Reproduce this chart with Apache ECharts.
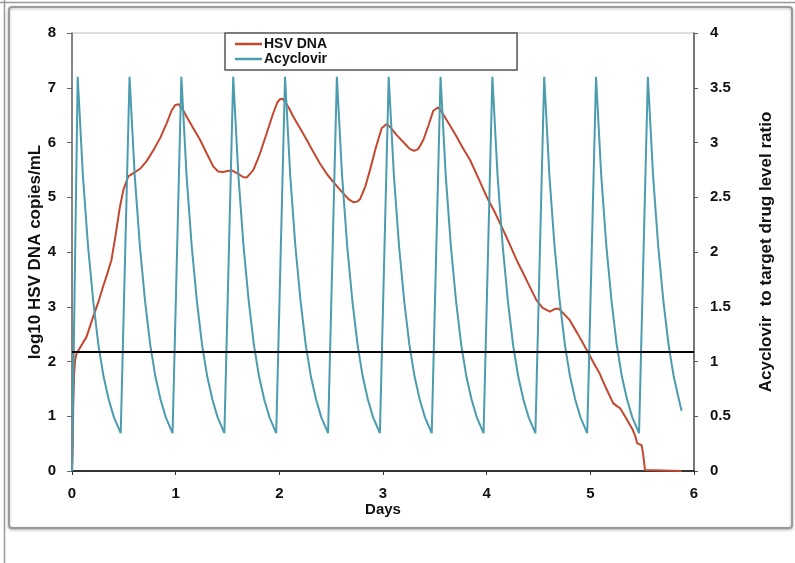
<!DOCTYPE html>
<html>
<head>
<meta charset="utf-8">
<script src="https://cdn.jsdelivr.net/npm/echarts@6/dist/echarts.min.js"></script>
<style>
  html, body { margin: 0; padding: 0; background: #fff; }
  #chart { width: 795px; height: 563px; }
</style>
</head>
<body>
<div id="chart"></div>
<script>
// [days, log10 HSV DNA copies/mL]
var hsvDna = [
  [0, 0], [0.006, 0.3], [0.012, 1.2], [0.02, 1.75], [0.03, 2.03], [0.045, 2.15], [0.07, 2.23],
  [0.14, 2.45], [0.205, 2.82], [0.26, 3.12], [0.3, 3.37], [0.34, 3.6], [0.38, 3.85], [0.42, 4.3],
  [0.46, 4.8], [0.495, 5.13], [0.543, 5.38], [0.6, 5.45], [0.656, 5.52], [0.72, 5.66], [0.785, 5.86],
  [0.85, 6.08], [0.913, 6.35], [0.96, 6.58], [0.994, 6.68], [1.025, 6.7], [1.06, 6.63], [1.106, 6.47],
  [1.17, 6.26], [1.235, 6.05], [1.3, 5.8], [1.363, 5.56], [1.41, 5.47], [1.46, 5.46], [1.5, 5.48],
  [1.54, 5.49], [1.6, 5.43], [1.65, 5.37], [1.685, 5.36], [1.75, 5.5], [1.81, 5.78], [1.875, 6.15],
  [1.94, 6.53], [1.98, 6.73], [2.006, 6.79], [2.03, 6.8], [2.055, 6.75], [2.095, 6.62], [2.135, 6.47],
  [2.2, 6.26], [2.264, 6.05], [2.33, 5.82], [2.39, 5.62], [2.46, 5.42], [2.52, 5.28], [2.57, 5.17],
  [2.617, 5.07], [2.67, 4.96], [2.713, 4.91], [2.75, 4.92], [2.78, 4.97], [2.83, 5.2], [2.875, 5.5],
  [2.93, 5.9], [2.987, 6.26], [3.035, 6.34], [3.08, 6.26], [3.13, 6.14], [3.2, 6.0], [3.26, 5.88],
  [3.3, 5.85], [3.34, 5.88], [3.39, 6.05], [3.44, 6.32], [3.485, 6.58], [3.53, 6.64], [3.56, 6.58],
  [3.614, 6.41], [3.7, 6.14], [3.77, 5.9], [3.84, 5.68], [3.92, 5.35], [4.0, 5.01], [4.08, 4.72],
  [4.16, 4.4], [4.22, 4.15], [4.29, 3.85], [4.35, 3.62], [4.42, 3.35], [4.48, 3.12], [4.54, 2.98],
  [4.61, 2.91], [4.66, 2.96], [4.69, 2.97], [4.74, 2.88], [4.8, 2.76], [4.88, 2.5], [4.965, 2.21],
  [5.03, 1.98], [5.09, 1.78], [5.15, 1.52], [5.22, 1.24], [5.26, 1.18], [5.286, 1.15], [5.35, 0.95],
  [5.41, 0.75], [5.44, 0.6], [5.45, 0.51], [5.495, 0.47], [5.51, 0.3], [5.527, 0.02], [5.53, 0],
  [5.88, 0]
];

// [days, acyclovir / target drug level ratio]
var acyclovir = [
  [0, 0], [0.055, 3.6], [0.105, 2.7], [0.155, 2.05], [0.205, 1.55], [0.255, 1.15], [0.305, 0.86], [0.355, 0.65], [0.405, 0.49], [0.47, 0.345],
  [0.555, 3.6], [0.605, 2.7], [0.655, 2.05], [0.705, 1.55], [0.755, 1.15], [0.805, 0.86], [0.855, 0.65], [0.905, 0.49], [0.97, 0.345],
  [1.055, 3.6], [1.105, 2.7], [1.155, 2.05], [1.205, 1.55], [1.255, 1.15], [1.305, 0.86], [1.355, 0.65], [1.405, 0.49], [1.47, 0.345],
  [1.555, 3.6], [1.605, 2.7], [1.655, 2.05], [1.705, 1.55], [1.755, 1.15], [1.805, 0.86], [1.855, 0.65], [1.905, 0.49], [1.97, 0.345],
  [2.055, 3.6], [2.105, 2.7], [2.155, 2.05], [2.205, 1.55], [2.255, 1.15], [2.305, 0.86], [2.355, 0.65], [2.405, 0.49], [2.47, 0.345],
  [2.555, 3.6], [2.605, 2.7], [2.655, 2.05], [2.705, 1.55], [2.755, 1.15], [2.805, 0.86], [2.855, 0.65], [2.905, 0.49], [2.97, 0.345],
  [3.055, 3.6], [3.105, 2.7], [3.155, 2.05], [3.205, 1.55], [3.255, 1.15], [3.305, 0.86], [3.355, 0.65], [3.405, 0.49], [3.47, 0.345],
  [3.555, 3.6], [3.605, 2.7], [3.655, 2.05], [3.705, 1.55], [3.755, 1.15], [3.805, 0.86], [3.855, 0.65], [3.905, 0.49], [3.97, 0.345],
  [4.055, 3.6], [4.105, 2.7], [4.155, 2.05], [4.205, 1.55], [4.255, 1.15], [4.305, 0.86], [4.355, 0.65], [4.405, 0.49], [4.47, 0.345],
  [4.555, 3.6], [4.605, 2.7], [4.655, 2.05], [4.705, 1.55], [4.755, 1.15], [4.805, 0.86], [4.855, 0.65], [4.905, 0.49], [4.97, 0.345],
  [5.055, 3.6], [5.105, 2.7], [5.155, 2.05], [5.205, 1.55], [5.255, 1.15], [5.305, 0.86], [5.355, 0.65], [5.405, 0.49], [5.47, 0.345],
  [5.555, 3.6], [5.605, 2.7], [5.655, 2.05], [5.705, 1.55], [5.755, 1.15], [5.805, 0.86], [5.855, 0.65], [5.88, 0.55]
];

var targetRatio = 1.09;  // black horizontal line, right axis

var seriesNames = ['HSV DNA', 'Acyclovir'];
var colors = ['#c4482f', '#4a9cae'];

var font = 'Liberation Sans, Arial, sans-serif';
var bold = { fontFamily: font, fontWeight: 'bold', color: '#111' };

var chart = echarts.init(document.getElementById('chart'));
chart.setOption({
  animation: false,
  backgroundColor: '#fff',
  textStyle: { fontFamily: font },
  graphic: [
    // outer edge lines
    { type: 'line', shape: { x1: 0, y1: 2.5, x2: 795, y2: 2.5 }, style: { stroke: '#999', lineWidth: 1.5 }, z: -1 },
    { type: 'line', shape: { x1: 4.5, y1: 0, x2: 4.5, y2: 563 }, style: { stroke: '#999', lineWidth: 1.5 }, z: -1 },
    // chart frame
    {
      type: 'rect', shape: { x: 9, y: 7, width: 783, height: 521, r: 3 },
      style: { fill: '#fff', stroke: '#9a9a9a', lineWidth: 2, shadowBlur: 3, shadowColor: 'rgba(0,0,0,0.25)', shadowOffsetY: 1 },
      z: -1
    }
  ],
  legend: {
    data: seriesNames.map(function (n) { return { name: n, icon: 'rect' }; }),
    orient: 'vertical',
    left: 225,
    top: 33,
    itemWidth: 27,
    itemHeight: 2.5,
    itemGap: 1,
    padding: [4, 190, 4, 10],
    borderColor: '#555',
    borderWidth: 1.5,
    backgroundColor: '#fff',
    textStyle: { fontFamily: font, fontWeight: 'bold', fontSize: 14, color: '#111', padding: [0, 0, 0, -3] }
  },
  grid: {
    left: 72, right: 101, top: 33, bottom: 92,
    show: true, borderColor: '#c0c0c0', borderWidth: 1, backgroundColor: 'transparent'
  },
  xAxis: {
    type: 'value',
    min: 0, max: 6, interval: 1,
    name: 'Days',
    nameLocation: 'middle',
    nameGap: 31,
    nameMoveOverlap: false,
    nameTextStyle: Object.assign({ fontSize: 15 }, bold),
    axisLine: { lineStyle: { color: '#333', width: 2 } },
    axisTick: { length: 4, lineStyle: { color: '#333' } },
    axisLabel: Object.assign({ fontSize: 15, margin: 15 }, bold),
    splitLine: { show: false }
  },
  yAxis: [
    {
      type: 'value',
      min: 0, max: 8, interval: 1,
      name: 'log10 HSV DNA copies/mL',
      nameLocation: 'middle',
      nameGap: 28,
      nameMoveOverlap: false,
      nameRotate: 90,
      nameTextStyle: Object.assign({ fontSize: 17 }, bold),
      axisLine: { show: true, lineStyle: { color: '#666', width: 1.5 } },
      axisTick: { show: true, length: 5, lineStyle: { color: '#666' } },
      axisLabel: Object.assign({ fontSize: 15, margin: 16 }, bold),
      splitLine: { show: false }
    },
    {
      type: 'value',
      min: 0, max: 4, interval: 0.5,
      position: 'right',
      name: 'Acyclovir  to target drug level ratio',
      nameLocation: 'middle',
      nameGap: 64,
      nameMoveOverlap: false,
      nameRotate: 90,
      nameTextStyle: Object.assign({ fontSize: 17 }, bold),
      axisLine: { show: true, lineStyle: { color: '#555', width: 1.5 } },
      axisTick: { show: true, length: 4, lineStyle: { color: '#555' } },
      axisLabel: Object.assign({ fontSize: 15, margin: 16 }, bold),
      splitLine: { show: false }
    }
  ],
  series: [
    {
      name: seriesNames[0],
      type: 'line',
      yAxisIndex: 0,
      data: hsvDna,
      showSymbol: false,
      symbol: 'none',
      lineStyle: { color: colors[0], width: 2 },
      itemStyle: { color: colors[0] },
      z: 2
    },
    {
      name: seriesNames[1],
      type: 'line',
      yAxisIndex: 1,
      data: acyclovir,
      showSymbol: false,
      symbol: 'none',
      lineStyle: { color: colors[1], width: 2 },
      itemStyle: { color: colors[1] },
      z: 3,
      markLine: {
        silent: true,
        symbol: 'none',
        label: { show: false },
        lineStyle: { color: '#000', width: 2, type: 'solid' },
        data: [{ yAxis: targetRatio }]
      }
    }
  ]
});
</script>
</body>
</html>
